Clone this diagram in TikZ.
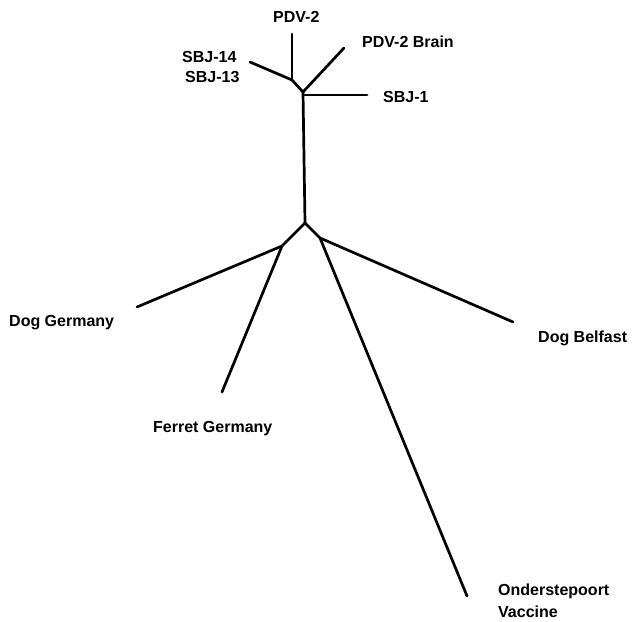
\documentclass[tikz,border=0pt]{standalone}
\usepackage{fontspec}
\setmainfont{Liberation Sans}
\begin{document}
\begin{tikzpicture}[x=1pt,y=-1pt,
  branch/.style={line width=2.7pt,line cap=round,line join=round},
  lbl/.style={font=\bfseries\fontsize{16}{19}\selectfont,inner sep=0pt,anchor=base west}]
\useasboundingbox (0,0) rectangle (634,621);
% internal junctions
\coordinate (A) at (292,80);
\coordinate (B) at (303,92);
\coordinate (C) at (305,223);
\coordinate (D) at (282,246);
\coordinate (E) at (320,238);
% leaf ends
\coordinate (pdv2) at (292,34);
\coordinate (sbj14) at (250,62);
\coordinate (brain) at (344,48);
\coordinate (sbj1s) at (304,95);
\coordinate (sbj1) at (367,95);
\coordinate (dogg) at (137,307);
\coordinate (ferret) at (222,392);
\coordinate (dogb) at (513,322);
\coordinate (ond) at (467,596);
% branches
\draw[branch] (pdv2) -- (A);
\draw[branch] (sbj14) -- (A);
\draw[branch] (A) -- (B);
\draw[branch] (brain) -- (B);
\draw[branch] (sbj1s) -- (sbj1);
\draw[branch] (B) -- (C);
\draw[branch] (C) -- (D);
\draw[branch] (C) -- (E);
\draw[branch] (D) -- (dogg);
\draw[branch] (D) -- (ferret);
\draw[branch] (E) -- (dogb);
\draw[branch] (E) -- (ond);
% labels
\node[lbl] (lpdv2) at (273,22) {PDV-2};
\node[lbl] (lbrain) at (362,47) {PDV-2 Brain};
\node[lbl] (l14) at (182,62) {SBJ-14};
\node[lbl] (l13) at (185,82) {SBJ-13};
\node[lbl] (l1) at (383,102) {SBJ-1};
\node[lbl] (ldogg) at (9,326) {Dog Germany};
\node[lbl] (lferret) at (153,432) {Ferret Germany};
\node[lbl] (ldogb) at (538,342) {Dog Belfast};
\node[lbl] (lond) at (498,595) {Onderstepoort};
\node[lbl] (lvac) at (498,617) {Vaccine};
\end{tikzpicture}
\end{document}
